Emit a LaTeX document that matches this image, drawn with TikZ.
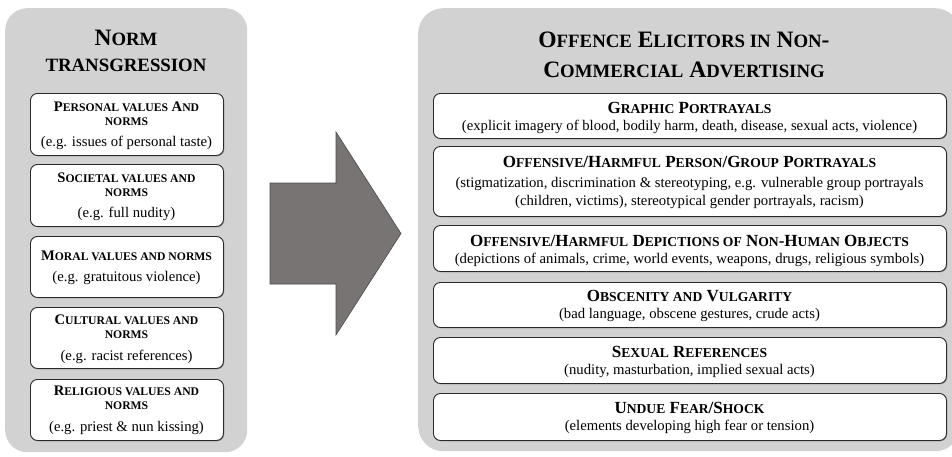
\documentclass[tikz,border=0pt]{standalone}
\usepackage{fontspec}
\setmainfont{Liberation Serif}
\usetikzlibrary{shadows}
\makeatletter
\newcommand\smc[1]{{\fontsize{\fpeval{0.8*\f@size}}{\f@baselineskip}\selectfont #1}}
\makeatother
\definecolor{panelgray}{HTML}{D2D2D2}
\definecolor{boxline}{HTML}{2A2A2A}
\definecolor{arrowfill}{HTML}{797474}
\definecolor{arrowline}{HTML}{4A4A4A}
\tikzset{
  panel/.style={fill=panelgray, draw=none, rounded corners=22pt, anchor=north west, inner sep=0pt},
  box/.style={draw=boxline, fill=white, line width=0.9pt, rounded corners=7pt, anchor=north west, inner sep=0pt,
    drop shadow={shadow xshift=0.8pt, shadow yshift=-0.8pt, fill=black!55, opacity=0.6}},
  ttl/.style={font=\fontsize{23.5}{28}\selectfont\bfseries, anchor=base, inner sep=0pt},
  lhd/.style={font=\fontsize{14.6}{17}\selectfont\bfseries, anchor=base, inner sep=0pt},
  rhd/.style={font=\fontsize{17}{20}\selectfont\bfseries, anchor=base, inner sep=0pt},
  dsc/.style={font=\fontsize{14.7}{17}\selectfont, anchor=base, inner sep=0pt},
}
\begin{document}
\begin{tikzpicture}[x=1pt,y=-1pt]
\useasboundingbox (0,0) rectangle (952,456);
% panels
\node[panel, minimum width=242pt, minimum height=444pt] (lpanel) at (5,8) {};
\node[panel, rounded corners=25pt, minimum width=542pt, minimum height=443pt] (rpanel) at (418,8) {};
% left title
\node[ttl] (lt1) at (126,45) {N\smc{ORM}};
\node[ttl] (lt2) at (126,71) {\smc{TRANSGRESSION}};
% right title
\node[ttl] (rt1) at (684,47) {O\smc{FFENCE} E\smc{LICITORS IN} N\smc{ON}-};
\node[ttl] (rt2) at (684,77) {C\smc{OMMERCIAL} A\smc{DVERTISING}};
% arrow
\draw[fill=arrowfill, draw=arrowline, line width=0.6pt]
  (270,183) -- (336,183) -- (336,132) -- (401,233.5) -- (336,335) -- (336,284) -- (270,284) -- cycle;
% left boxes
\node[box, minimum width=193pt, minimum height=62pt] (l1) at (30,93) {};
\node[lhd] (l1a) at (126.5,111) {P\smc{ERSONAL VALUES} A\smc{ND}};
\node[lhd] (l1b) at (126.5,125) {\smc{NORMS}};
\node[dsc] (l1c) at (126.5,146) {(e.g. issues of personal taste)};
\node[box, minimum width=193pt, minimum height=62pt] (l2) at (30,164) {};
\node[lhd] (l2a) at (126.5,182) {S\smc{OCIETAL VALUES AND}};
\node[lhd] (l2b) at (126.5,196) {\smc{NORMS}};
\node[dsc] (l2c) at (126.5,217) {(e.g. full nudity)};
\node[box, minimum width=193pt, minimum height=61pt] (l3) at (30,236) {};
\node[lhd] (l3a) at (126.5,260) {M\smc{ORAL VALUES AND NORMS}};
\node[dsc] (l3c) at (126.5,281) {(e.g. gratuitous violence)};
\node[box, minimum width=193pt, minimum height=61pt] (l4) at (30,307) {};
\node[lhd] (l4a) at (126.5,324) {C\smc{ULTURAL VALUES AND}};
\node[lhd] (l4b) at (126.5,338) {\smc{NORMS}};
\node[dsc] (l4c) at (126.5,360) {(e.g. racist references)};
\node[box, minimum width=193pt, minimum height=61pt] (l5) at (30,379) {};
\node[lhd] (l5a) at (126.5,395) {R\smc{ELIGIOUS VALUES AND}};
\node[lhd] (l5b) at (126.5,409) {\smc{NORMS}};
\node[dsc] (l5c) at (126.5,431) {(e.g. priest \& nun kissing)};
% right boxes
\node[box, minimum width=513pt, minimum height=45pt] (r1) at (433,93) {};
\node[rhd] (r1a) at (689.5,113) {G\smc{RAPHIC} P\smc{ORTRAYALS}};
\node[dsc] (r1c) at (689.5,130) {(explicit imagery of blood, bodily harm, death, disease, sexual acts, violence)};
\node[box, minimum width=513pt, minimum height=70pt] (r2) at (433,146) {};
\node[rhd] (r2a) at (689.5,167) {O\smc{FFENSIVE}/H\smc{ARMFUL} P\smc{ERSON}/G\smc{ROUP} P\smc{ORTRAYALS}};
\node[dsc] (r2b) at (689.5,187) {(stigmatization, discrimination \& stereotyping, e.g. vulnerable group portrayals};
\node[dsc] (r2c) at (689.5,205) {(children, victims), stereotypical gender portrayals, racism)};
\node[box, minimum width=513pt, minimum height=46pt] (r3) at (433,225) {};
\node[rhd] (r3a) at (689.5,246) {O\smc{FFENSIVE}/H\smc{ARMFUL} D\smc{EPICTIONS OF} N\smc{ON}-H\smc{UMAN} O\smc{BJECTS}};
\node[dsc] (r3c) at (689.5,263) {(depictions of animals, crime, world events, weapons, drugs, religious symbols)};
\node[box, minimum width=513pt, minimum height=45pt] (r4) at (433,282) {};
\node[rhd] (r4a) at (689.5,301) {O\smc{BSCENITY AND} V\smc{ULGARITY}};
\node[dsc] (r4c) at (689.5,318) {(bad language, obscene gestures, crude acts)};
\node[box, minimum width=513pt, minimum height=46pt] (r5) at (433,337) {};
\node[rhd] (r5a) at (689.5,357) {S\smc{EXUAL} R\smc{EFERENCES}};
\node[dsc] (r5c) at (689.5,374) {(nudity, masturbation, implied sexual acts)};
\node[box, minimum width=513pt, minimum height=47pt] (r6) at (433,393) {};
\node[rhd] (r6a) at (689.5,413) {U\smc{NDUE} F\smc{EAR}/S\smc{HOCK}};
\node[dsc] (r6c) at (689.5,430) {(elements developing high fear or tension)};
\end{tikzpicture}
\end{document}
